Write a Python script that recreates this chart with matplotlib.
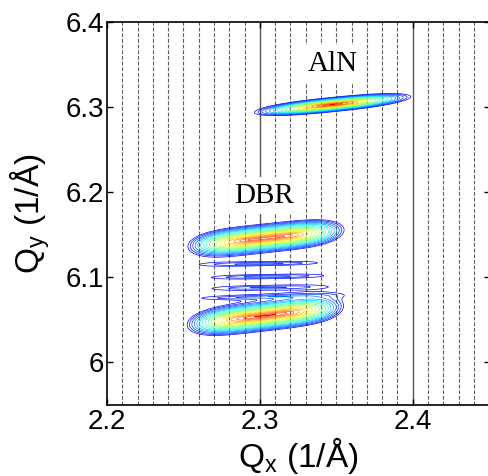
"""Reciprocal space map around the AlN / DBR reflections (contour of log intensity)."""
import matplotlib

matplotlib.use("Agg")
import matplotlib.pyplot as plt
import numpy as np
from matplotlib.colors import LinearSegmentedColormap, LogNorm

plt.rcParams["font.family"] = ["Liberation Sans", "DejaVu Sans"]
plt.rcParams["mathtext.default"] = "regular"

# peaks: centre, half length / half thickness of the
# outermost contour, tilt (dQy/dQx), peak height (relative), flatness along Qx
peak_name = ["AlN", "DBR top", "fringe 1", "fringe 2", "fringe 3", "fringe 4", "DBR bottom"]
peak_qx = [2.3475, 2.304, 2.3005, 2.305, 2.305, 2.302, 2.3035]
peak_qy = [6.303, 6.146, 6.116, 6.101, 6.088, 6.077, 6.055]
peak_len = [0.051, 0.051, 0.036, 0.034, 0.033, 0.035, 0.051]
peak_wid = [0.0085, 0.017, 0.0022, 0.0022, 0.0022, 0.0018, 0.018]
peak_slope = [0.18, 0.19, 0.03, 0.03, 0.03, 0.04, 0.21]
peak_amp = [1.0, 0.9, 0.02, 0.02, 0.018, 0.018, 1.0]
peak_pow = [2.5, 4.0, 3.0, 3.0, 3.0, 3.0, 4.0]

xticks = [2.2, 2.3, 2.4]
yticks = [6.0, 6.1, 6.2, 6.3, 6.4]
ytick_labels = ["6", "6.1", "6.2", "6.3", "6.4"]
labels = [("AlN", 2.3475, 6.351), ("DBR", 2.303, 6.196)]

FLOOR = 0.01

qx = np.linspace(2.2, 2.452, 700)
qy = np.linspace(5.95, 6.4, 1200)
X, Y = np.meshgrid(qx, qy)
Z = np.full_like(X, 1e-4)
for x0, y0, L, W, s, A, p in zip(peak_qx, peak_qy, peak_len, peak_wid, peak_slope, peak_amp, peak_pow):
    u = X - x0
    v = (Y - y0) - s * u
    r = np.sqrt(np.abs(u / L) ** p + (v / W) ** 2)
    Z += A * np.exp(-np.log(A / FLOOR) * r)

jet = plt.get_cmap("jet")
cmap = LinearSegmentedColormap.from_list("jet_t", jet(np.linspace(0.1, 0.9, 256)))
levels = 10 ** np.linspace(-2, -0.04, 18)

fig = plt.figure(figsize=(4.89, 4.76), dpi=100)
ax = fig.add_axes([107 / 489, 71 / 476, 383 / 489, 383 / 476])
ax.contour(X, Y, Z, levels=levels, cmap=cmap, norm=LogNorm(vmin=0.01, vmax=0.92), linewidths=0.5, zorder=3)

for xv in np.arange(2.21, 2.445, 0.01):
    if abs(xv - 2.3) < 1e-6 or abs(xv - 2.4) < 1e-6:
        ax.axvline(xv, color="#555555", lw=1.0, zorder=1)
    else:
        ax.axvline(xv, color="#606060", lw=0.8, ls=(0, (3.5, 1.6)), zorder=1)

for txt, x, y in labels:
    ax.text(x, y, txt, family=["Liberation Serif", "DejaVu Serif"], fontsize=21, ha="center", va="center",
            zorder=2, bbox=dict(boxstyle="square,pad=0.2", fc="white", ec="none"))

ax.set_xlim(2.2, 2.4505)
ax.set_ylim(5.95, 6.4)
ax.set_xticks(xticks)
ax.set_xticklabels([f"{t:.1f}" for t in xticks])
ax.set_yticks(yticks)
ax.set_yticklabels(ytick_labels)
ax.tick_params(direction="in", length=4, width=1, labelsize=20, top=True, right=True, pad=3)
ax.tick_params(axis="y", pad=2)
for sp in ax.spines.values():
    sp.set_linewidth(1.2)

ax.set_xlabel("Q$_x$ (1/Å)", fontsize=24, labelpad=0)
ax.set_ylabel("Q$_y$ (1/Å)", fontsize=24, labelpad=10)

fig.savefig("out.png", dpi=100)
